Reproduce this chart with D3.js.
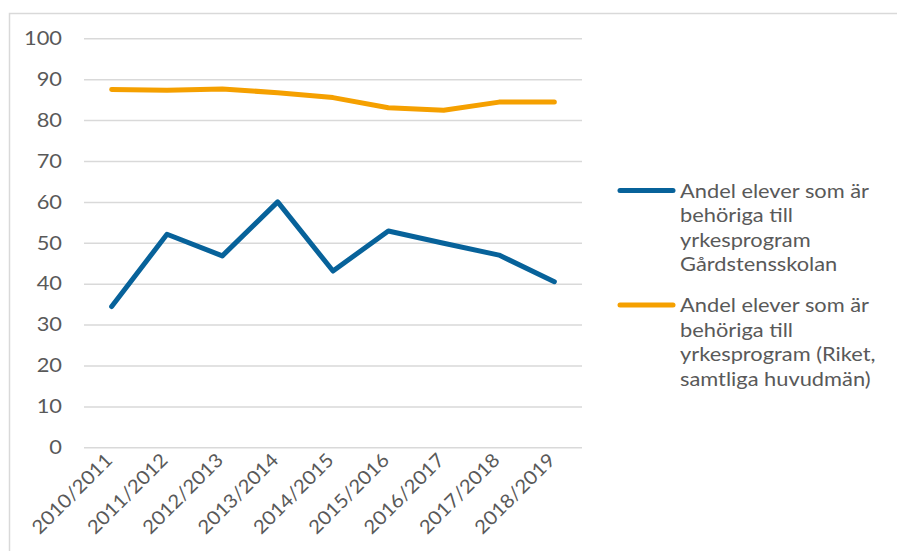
<!DOCTYPE html>
<html>
<head>
<meta charset="utf-8">
<script src="https://cdn.jsdelivr.net/npm/d3@7"></script>
<style>
  html, body { margin: 0; padding: 0; background: #fff; }
  svg { display: block; }
  text { font-family: Lato, "Open Sans", sans-serif; fill: #595959; }
</style>
</head>
<body>
<svg id="chart" width="897" height="551"></svg>
<script>
// Läsår på x-axeln
const years = ["2010/2011", "2011/2012", "2012/2013", "2013/2014", "2014/2015",
               "2015/2016", "2016/2017", "2017/2018", "2018/2019"];

// Andel behöriga till yrkesprogram (%)
const skolan = [34.4, 52.1, 46.8, 60.0, 43.1, 52.9, 49.9, 47.0, 40.5];
const riket  = [87.5, 87.3, 87.6, 86.7, 85.5, 83.0, 82.4, 84.4, 84.4];

const yTicks = [0, 10, 20, 30, 40, 50, 60, 70, 80, 90, 100];

const seriesNames = [
  ["Andel elever som är", "behöriga till", "yrkesprogram", "Gårdstensskolan"],
  ["Andel elever som är", "behöriga till", "yrkesprogram (Riket,", "samtliga huvudmän)"]
];
const seriesColors = ["#07629a", "#f5a000"];
const seriesData = [skolan, riket];

const FONT = "Lato, 'Open Sans', sans-serif";
const STRETCH = 1.12;   // något bredare typsnitt
const svg = d3.select("#chart");

// Ram runt diagrammet (öppen åt höger och nedåt)
svg.append("path")
  .attr("d", "M9.5,560 V13.5 H905")
  .attr("fill", "none")
  .attr("stroke", "#d9d9d9")
  .attr("stroke-width", 1.5);

const plot = { left: 84, right: 582, top: 38.3, bottom: 447.3 };

const x = d3.scaleBand().domain(years).range([plot.left, plot.right]);
const y = d3.scaleLinear().domain([0, 100]).range([plot.bottom, plot.top]);

// Stödlinjer och y-axelns etiketter
const yAxis = d3.axisLeft(y)
  .tickValues(yTicks)
  .tickSize(-(plot.right - plot.left))
  .tickPadding(22);

const gy = svg.append("g")
  .attr("transform", `translate(${plot.left},0)`)
  .call(yAxis);
gy.select(".domain").remove();
gy.selectAll(".tick line").attr("stroke", "#d9d9d9").attr("stroke-width", 1.5);
gy.selectAll(".tick text")
  .attr("font-size", 19.5)
  .attr("fill", "#595959")
  .style("font-family", FONT)
  .attr("x", -22 / STRETCH)
  .attr("transform", `scale(${STRETCH},1)`);

// x-axelns etiketter, roterade 45°
const xAxis = d3.axisBottom(x).tickSize(0).tickPadding(0);
const gx = svg.append("g")
  .attr("transform", `translate(0,${plot.bottom})`)
  .call(xAxis);
gx.select(".domain").remove();
gx.selectAll(".tick text")
  .attr("font-size", 19)
  .attr("fill", "#595959")
  .style("font-family", FONT)
  .attr("text-anchor", "end")
  .attr("dy", 0)
  .attr("transform", `translate(2,14) rotate(-45) scale(1.08,1)`);

// Linjer
const line = d3.line()
  .x((d, i) => x(years[i]) + x.bandwidth() / 2)
  .y(d => y(d));

seriesData.forEach((vals, k) => {
  svg.append("path")
    .datum(vals)
    .attr("fill", "none")
    .attr("stroke", seriesColors[k])
    .attr("stroke-width", 5)
    .attr("stroke-linejoin", "round")
    .attr("stroke-linecap", "round")
    .attr("d", line);
});

// Teckenförklaring
const legendTop = [190.5, 305];
seriesNames.forEach((lines, k) => {
  const g = svg.append("g").attr("transform", `translate(0,${legendTop[k]})`);
  g.append("line")
    .attr("x1", 620).attr("x2", 673)
    .attr("y1", 0).attr("y2", 0)
    .attr("stroke", seriesColors[k])
    .attr("stroke-width", 5)
    .attr("stroke-linecap", "round");
  lines.forEach((t, i) => {
    g.append("text")
      .attr("transform", `translate(680,${i * 24.6 + 7}) scale(${STRETCH},1)`)
      .attr("font-size", 19.5)
      .text(t);
  });
});
</script>
</body>
</html>
